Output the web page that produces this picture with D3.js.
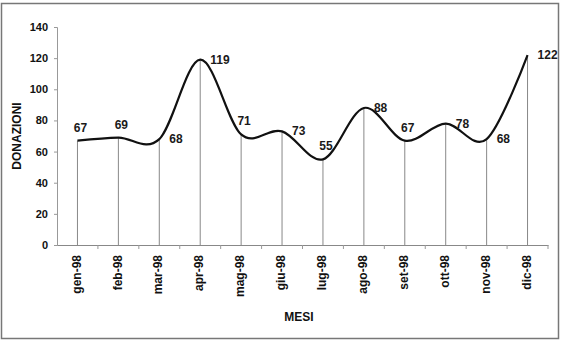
<!DOCTYPE html>
<html><head><meta charset="utf-8">
<script src="https://cdn.jsdelivr.net/npm/d3@7"></script>
<style>body{margin:0;background:#fff}svg{display:block}text{font-family:"Liberation Sans",Arial,sans-serif;font-weight:bold}</style>
</head><body><svg id="c" width="562" height="342"></svg>
<script>
const months = ["gen-98","feb-98","mar-98","apr-98","mag-98","giu-98","lug-98","ago-98","set-98","ott-98","nov-98","dic-98"];
const donazioni = [67,69,68,119,71,73,55,88,67,78,68,122];
const yTicks = [0,20,40,60,80,100,120,140];
const labelPlacement = ["above","above","right","right","above","right","above","right","above","right","right","right"];

const svg = d3.select("#c");
svg.append("rect").attr("x",1.5).attr("y",3.5).attr("width",557).attr("height",335)
  .attr("fill","#fff").attr("stroke","#777").attr("stroke-width",1.5);

const x = d3.scaleBand().domain(months).range([57,548]).padding(0);
const y = d3.scaleLinear().domain([0,140]).range([245,27]);
const cx = m => x(m) + x.bandwidth()/2;

// y axis
const ya = svg.append("g").attr("transform","translate(57,0)")
  .call(d3.axisLeft(y).tickValues(yTicks).tickSize(3).tickPadding(6));
ya.select(".domain").attr("stroke","#999");
ya.selectAll(".tick line").attr("stroke","#999");
ya.selectAll(".tick text").attr("font-size",11).attr("fill","#111");

// x axis
const xa = svg.append("g").attr("transform","translate(0,245)")
  .call(d3.axisBottom(x).tickSize(0).tickPadding(8));
xa.select(".domain").attr("stroke","#888");
xa.selectAll(".tick text").attr("font-size",12).attr("fill","#111")
  .attr("transform","rotate(-90)").attr("text-anchor","end")
  .attr("x",-10).attr("y",-1).attr("dy","0.35em");
// boundary ticks
svg.append("g").selectAll("line").data(months.slice(1).concat(["end"]))
  .join("line")
  .attr("x1",(d,i)=> i<months.length-1 ? x(d) : x.range()[1])
  .attr("x2",(d,i)=> i<months.length-1 ? x(d) : x.range()[1])
  .attr("y1",245).attr("y2",249).attr("stroke","#999");

// drop lines
svg.append("g").selectAll("line").data(months).join("line")
  .attr("x1",d=>cx(d)).attr("x2",d=>cx(d))
  .attr("y1",(d,i)=>y(donazioni[i])).attr("y2",245)
  .attr("stroke","#888").attr("stroke-width",1);

// smoothed line
const line = d3.line().x((d,i)=>cx(months[i])).y(d=>y(d)).curve(d3.curveCatmullRom.alpha(0));
svg.append("path").datum(donazioni).attr("d",line)
  .attr("fill","none").attr("stroke","#111").attr("stroke-width",2.2);

// labels
svg.append("g").selectAll("text").data(donazioni).join("text")
  .attr("font-size",12).attr("fill","#1a1a1a")
  .attr("text-anchor",(d,i)=>labelPlacement[i]==="right"?"start":"middle")
  .attr("x",(d,i)=>cx(months[i]) + (labelPlacement[i]==="right"?10:3))
  .attr("y",(d,i)=>y(d) + (labelPlacement[i]==="right"?4:-9))
  .text(d=>d);

// axis titles
svg.append("text").attr("font-size",12).attr("fill","#111").attr("text-anchor","middle")
  .attr("transform","translate(21,136) rotate(-90)").text("DONAZIONI");
svg.append("text").attr("font-size",12).attr("fill","#111").attr("text-anchor","middle")
  .attr("x",299).attr("y",321).text("MESI");
</script></body></html>
